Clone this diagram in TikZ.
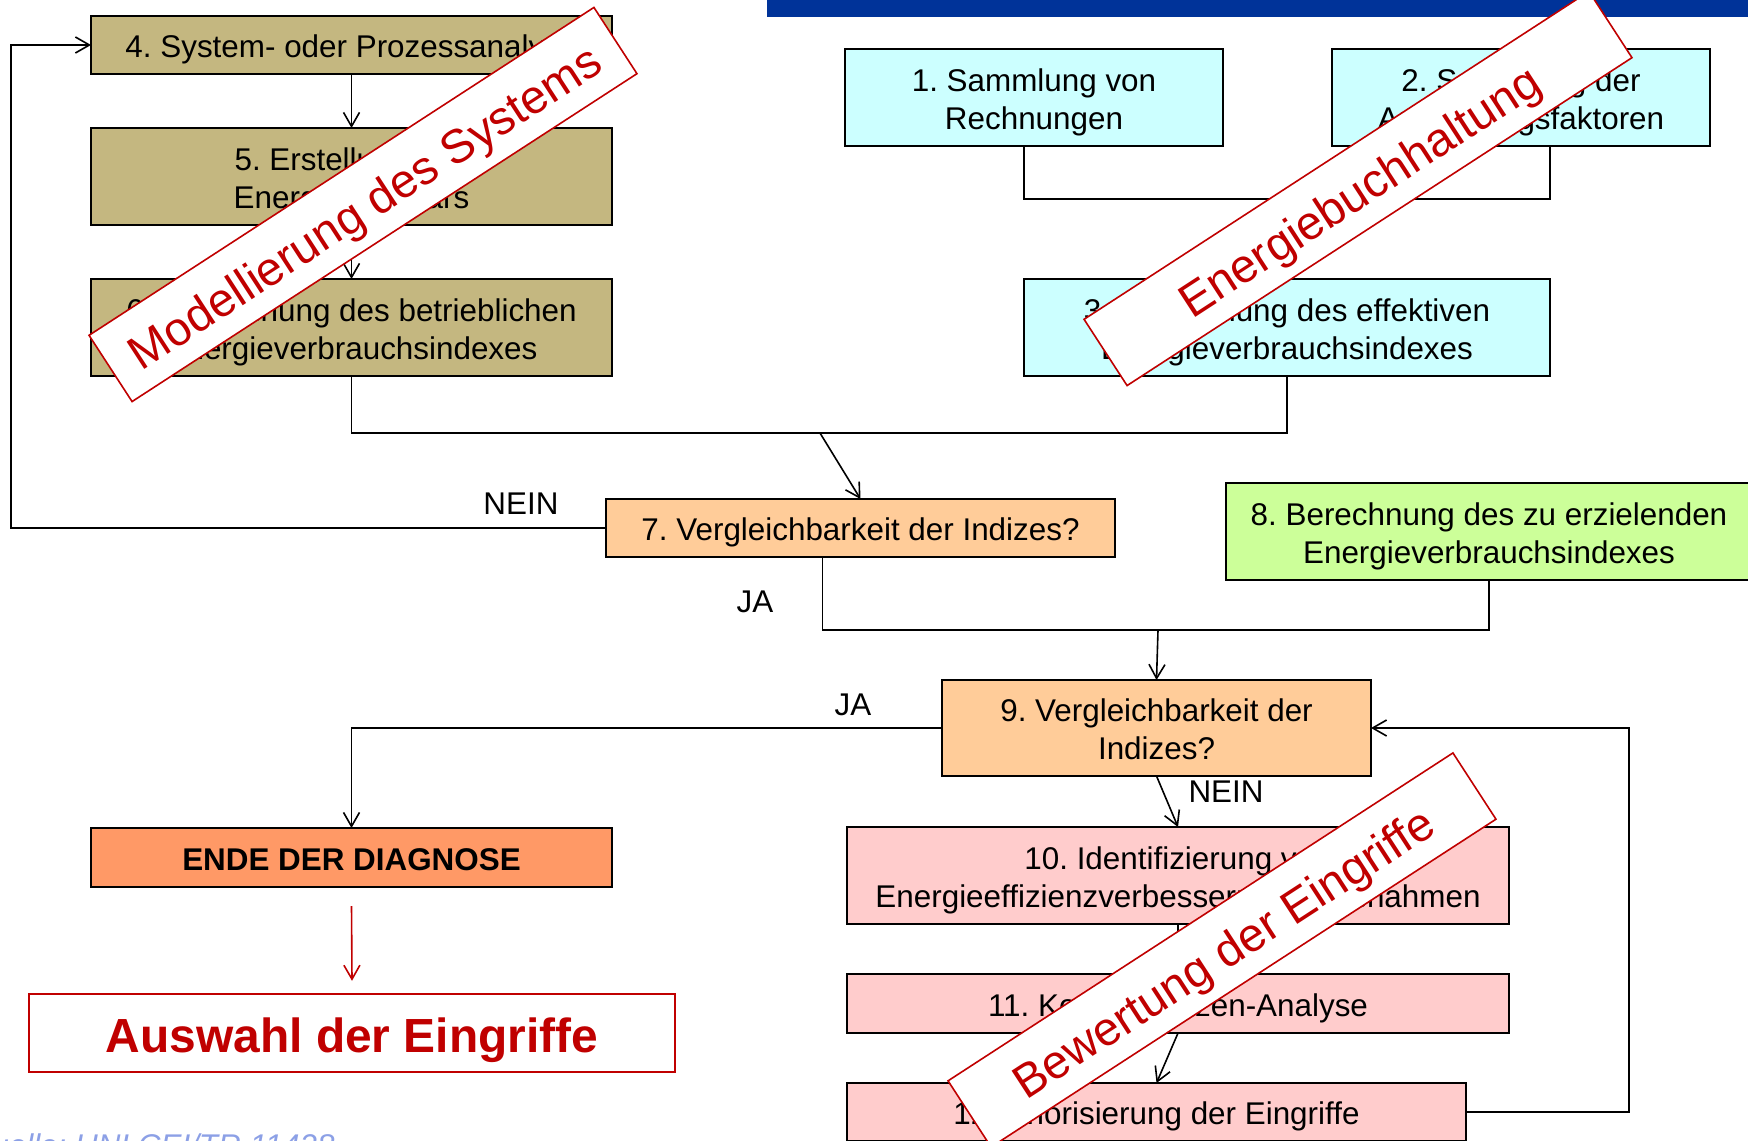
\documentclass[tikz,border=0pt]{standalone}
\usepackage{fontspec}
\setmainfont{Liberation Sans}
\frenchspacing
\usepackage{xcolor}
\usepackage{tikz}
\usetikzlibrary{arrows.meta, positioning, calc}

\definecolor{khaki}{RGB}{196,183,128}
\definecolor{paleCyan}{RGB}{204,255,255}
\definecolor{peach}{RGB}{255,204,153}
\definecolor{paleLime}{RGB}{204,255,153}
\definecolor{rose}{RGB}{255,204,204}
\definecolor{endOrange}{RGB}{255,153,102}
\definecolor{darkRed}{RGB}{192,0,0}
\definecolor{barBlue}{RGB}{0,51,153}
\definecolor{srcBlue}{RGB}{140,160,230}

\newcommand{\flowfont}{\fontsize{15.7pt}{19pt}\selectfont}
\newcommand{\bannerfont}{\fontsize{23.6pt}{28pt}\selectfont}
\newcommand{\resultfont}{\fontsize{23.95pt}{28pt}\selectfont\bfseries}
\newcommand{\topstrut}{\rule{0pt}{1.03em}}
\newcommand{\botstrut}{\rule[-0.21em]{0pt}{0pt}}

\tikzset{
  stepbox/.style={rectangle, draw, line width=1pt, outer sep=0pt, inner sep=0pt, align=center, font=\flowfont,
    execute at begin node=\topstrut, execute at end node=\botstrut},
  twolines/.style={execute at begin node={\rule{0pt}{\dimexpr 19pt+1.03em\relax}}},
  modelbox/.style={stepbox, fill=khaki, minimum width=260.5pt, minimum height=48.5pt},
  databox/.style={stepbox, twolines, fill=paleCyan, minimum width=189pt, minimum height=48.5pt},
  askbox/.style={stepbox, fill=peach, minimum height=29pt},
  targetbox/.style={stepbox, twolines, fill=paleLime, minimum width=263pt, minimum height=48.5pt},
  actbox/.style={stepbox, fill=rose, minimum width=331pt, minimum height=48.5pt},
  endbox/.style={stepbox, fill=endOrange, minimum width=260.5pt, minimum height=29.5pt, font=\flowfont\bfseries},
  resultbox/.style={rectangle, draw=darkRed, line width=1.2pt, fill=white, text=darkRed, inner sep=0pt,
    minimum width=323pt, minimum height=39pt, font=\resultfont, execute at begin node=\topstrut, execute at end node=\botstrut},
  banner/.style={rectangle, draw=darkRed, line width=0.8pt, fill=white, text=darkRed, minimum width=301pt,
    minimum height=39.5pt, inner sep=0pt, rotate=33, font=\bannerfont, execute at begin node=\topstrut, execute at end node=\botstrut},
  lbl/.style={font=\flowfont, inner sep=0pt},
  arr/.style={-{Straight Barb[length=7pt, width=8pt]}, line width=0.8pt},
  redarr/.style={-{Straight Barb[length=7pt, width=8pt]}, line width=0.8pt, darkRed},
  link/.style={line width=0.8pt},
}

\begin{document}
\begin{tikzpicture}[x=0.5pt, y=-0.5pt]
  \useasboundingbox (0,0) rectangle (1748,1140);
  \clip (0,0) rectangle (1748,1140);

  % Title bar
  \fill[barBlue] (767,0) rectangle (1748,17);

  % System model
  \node[modelbox, minimum height=29pt] (b4) at (351.5,45) {4. System- oder Prozessanalyse};
  \node[modelbox, twolines, below=27pt of b4] (b5) {5. Erstellung des\\Energieinventars};
  \node[modelbox, twolines, below=27pt of b5] (b6) {6. Berechnung des betrieblichen\\Energieverbrauchsindexes};

  % Energy accounting
  \node[databox] (b1) at (1034,97.5) {1. Sammlung von\\Rechnungen};
  \node[databox, right=54.5pt of b1] (b2) {2. Sammlung der\\Anpassungsfaktoren};
  \node[stepbox, twolines, fill=paleCyan, minimum width=263pt, minimum height=48.5pt] (b3) at (1287,327.5) {3. Berechnung des effektiven\\Energieverbrauchsindexes};

  % Comparison
  \node[askbox, minimum width=254.5pt] (b7) at (860.5,528) {7. Vergleichbarkeit der Indizes?};
  \node[targetbox] (b8) at (1489,531.5) {8. Berechnung des zu erzielenden\\Energieverbrauchsindexes};
  \node[askbox, twolines, minimum width=214.5pt, minimum height=48pt] (b9) at (1156.5,728) {9. Vergleichbarkeit der\\Indizes?};

  % Measures
  \node[actbox, twolines] (b10) at (1178,875.5) {10. Identifizierung von\\Energieeffizienzverbesserungsmaßnahmen};
  \node[actbox, minimum height=29.5pt, below=25pt of b10] (b11) {11. Kosten-Nutzen-Analyse};
  \node[actbox, minimum width=309.5pt, minimum height=29pt, below=25pt of b11.south west, anchor=north west] (b12) {12. Priorisierung der Eingriffe};

  % End
  \node[endbox] (ende) at (351.5,857.5) {ENDE DER DIAGNOSE};
  \node[resultbox] (ausw) at (352,1033) {Auswahl der Eingriffe};

  % Junctions
  \coordinate (j63) at (820,433);
  \coordinate (j78) at (1158,630);

  % Connectors
  \draw[arr] (b4) -- (b5);
  \draw[arr] (b5) -- (b6);
  \draw[link] (b3.west |- b1.south) -- ++(0,53) -| (b3.east |- b2.south);
  \draw[link] (b6.south) |- (j63) -| (b3.south);
  \draw[arr] (j63) -- (b7.north);
  \draw[arr] (b7.west) -- ++(-595,0) |- (b4.west);
  \draw[link] ([xshift=-19pt]b7.south) |- (j78) -| (b8.south);
  \draw[arr] (j78) -- (b9.north);
  \draw[arr] (b9.west) -| (ende.north);
  \draw[arr] (b9.south) -- (b10.north);
  \draw[arr] (b10.south) -- (b11.north);
  \draw[arr] (b11.south) -- (b12.north);
  \draw[arr] (b12.east) -- ++(163,0) |- (b9.east);
  \draw[redarr] ([yshift=-9.5pt]ende.south) -- ([yshift=6pt]ausw.north);

  % Labels
  \node[lbl] (nein1) at (521,504) {NEIN};
  \node[lbl] (ja1) at (755,602) {JA};
  \node[lbl] (ja2) at (853,705) {JA};
  \node[lbl] (nein2) at (1226,792) {NEIN};

  % Banners
  \node[banner] (ban1) at (363,204.5) {Modellierung des Systems};
  \node[banner] (ban2) at (1358,188.5) {Energiebuchhaltung};
  \node[banner] (ban3) at (1222,950) {Bewertung der Eingriffe};

  % Source
  \node[font=\flowfont\itshape, text=srcBlue, anchor=base east, inner sep=0pt] (src) at (335,1156) {Quelle: UNI CEI/TR 11428};
\end{tikzpicture}
\end{document}
